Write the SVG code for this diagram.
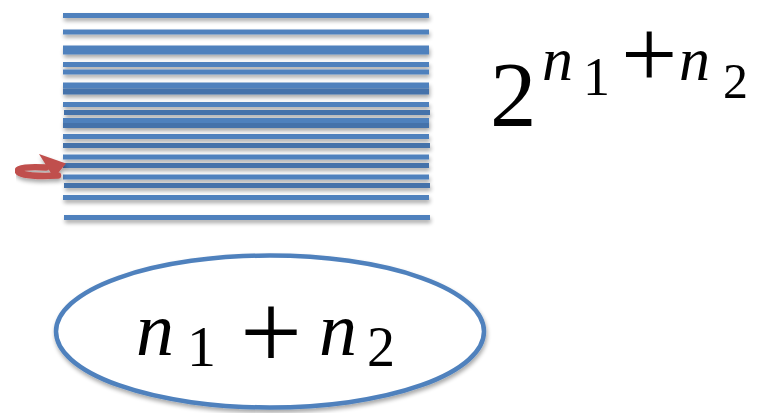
<svg xmlns="http://www.w3.org/2000/svg" width="765" height="413" viewBox="0 0 765 413">
<defs>
<filter id="sh" x="-5%" y="-200%" width="110%" height="500%">
<feGaussianBlur in="SourceAlpha" stdDeviation="2"/>
<feOffset dx="1" dy="3" result="b"/>
<feComponentTransfer><feFuncA type="linear" slope="0.35"/></feComponentTransfer>
<feMerge><feMergeNode/><feMergeNode in="SourceGraphic"/></feMerge>
</filter>
<style>
.l{fill:#4f81bd}
.d{fill:#4572aa}
.t{font-family:'Liberation Serif','Times New Roman',serif;fill:#000}
.i{font-style:italic}
</style>
</defs>
<rect width="765" height="413" fill="#fff"/>
<g id="lines" filter="url(#sh)">
<rect class="l" x="63" y="13" width="366" height="5"/>
<rect class="l" x="63" y="29.5" width="366" height="5"/>
<rect class="l" x="63" y="45.5" width="366" height="9"/>
<rect class="l" x="63" y="62" width="366" height="5"/>
<rect class="l" x="63" y="69.5" width="366" height="5"/>
<rect class="l" x="63" y="82.5" width="366" height="6"/>
<rect class="d" x="63" y="88.5" width="366" height="6"/>
<rect class="l" x="63" y="102" width="366" height="5"/>
<rect class="d" x="64" y="110" width="366" height="5"/>
<rect class="l" x="63" y="118" width="366" height="5"/>
<rect class="d" x="63" y="123" width="366" height="5"/>
<rect class="l" x="63" y="134" width="366" height="5"/>
<rect class="d" x="63" y="143" width="367" height="5"/>
<rect class="l" x="63" y="154.5" width="366" height="5"/>
<rect class="d" x="63" y="163" width="366" height="5"/>
<rect class="l" x="63" y="174.5" width="366" height="5"/>
<rect class="d" x="64" y="183" width="366" height="5"/>
<rect class="l" x="63" y="195" width="366" height="5"/>
<rect class="l" x="64" y="215" width="366" height="5"/>
</g>
<g id="arrow" filter="url(#sh)">
<path d="M58,175.5 C40,176.5 20,175.5 18,171.5 C16,167.5 30,166.5 46,167.5" fill="none" stroke="#c0504d" stroke-width="6.5" stroke-linecap="round"/>
<polygon points="39,154 66,163.5 54,178" fill="#c0504d"/>
</g>
<g id="power">
<text class="t" x="490" y="126" font-size="93">2</text>
<text class="t i" x="542" y="80" font-size="62">n</text>
<text class="t" x="583" y="95" font-size="54">1</text>
<text class="t" x="621" y="88" font-size="100">+</text>
<text class="t i" x="679" y="80" font-size="62">n</text>
<text class="t" x="723" y="98" font-size="50">2</text>
</g>
<g id="ellipse">
<ellipse cx="270" cy="331.5" rx="214" ry="76" fill="#fff" stroke="#4f81bd" stroke-width="4.5" filter="url(#sh)"/>
<text class="t i" x="136" y="355" font-size="76">n</text>
<text class="t" x="187" y="366" font-size="58">1</text>
<text class="t" x="240" y="369" font-size="110">+</text>
<text class="t i" x="319" y="355" font-size="76">n</text>
<text class="t" x="367" y="366" font-size="56">2</text>
</g>
</svg>
